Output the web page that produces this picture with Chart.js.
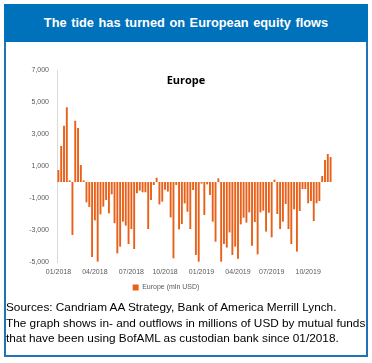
<!DOCTYPE html>
<html>
<head>
<meta charset="utf-8">
<script src="https://cdn.jsdelivr.net/npm/chart.js@4.4.1/dist/chart.umd.min.js"></script>
<style>
  html, body { margin:0; padding:0; background:#fff; }
  body { width:372px; height:363px; position:relative; overflow:hidden; font-family:'Liberation Sans', Arial, sans-serif; }
  #frame { position:absolute; left:4px; top:4px; width:364px; height:353px; box-sizing:border-box; border:2px solid #2272B6; }
  #hdr { position:absolute; left:4px; top:4px; width:364px; height:38px; background:#0071BB; color:#fff;
         font:bold 12.8px 'Liberation Sans', Arial, sans-serif; text-align:center; line-height:38px; word-spacing:1px; }
  #wrap { position:absolute; left:0; top:42px; width:372px; height:269px; }
  #ctitle { position:absolute; left:0; width:372px; top:72px; text-align:center; font:bold 11px 'Open Sans', sans-serif; color:#000; }
  #src { position:absolute; left:6px; top:300px; font:11.8px/15.5px 'Liberation Sans', Arial, sans-serif; color:#000; white-space:nowrap; }
</style>
</head>
<body>
<div id="frame"></div>
<div id="hdr">The tide has turned on European equity flows</div>
<div id="wrap"><canvas id="c"></canvas></div>
<div id="ctitle">Europe</div>
<div id="src">Sources: Candriam AA Strategy, Bank of America Merrill Lynch.<br>The graph shows in- and outflows in millions of USD by mutual funds<br>that have been using BofAML as custodian bank since 01/2018.</div>
<script>
// Weekly flows, Europe (mln USD), first week of 01/2018 onward
const europeFlows = [
  750, 2250, 3520, 4670, 100, -3310, 3830, 3375, 1060, 100,
  -1270, -1560, -4690, -2400, -4980, -2020, -1540, -1125, -1960, -770,
  -2580, -4460, -4040, -2480, -2730, -3875, -2940, -4190, -710, -540,
  -640, -640, -2940, -1125, -190, 270, -1400, -1230, -480, -600,
  -2210, -4770, -190, -2960, -2630, -1340, -1860, -2940, -500, -4560,
  -4980, -100, -2060, -150, -810, -2480, -3730, 230, -4980, -3875,
  -4100, -3150, -4560, -4040, -4800, -2650, -2230, -2540, -1900, -3980,
  -2500, -4520, -1900, -1790, -3100, -1920, -3460, 150, -2000, -2940,
  -2480, -1375, -2940, -3875, -1710, -4350, -1810, -440, -440, -1330,
  -1190, -2440, -1330, -1190, 375, 1375, 1750, 1560
];
const seriesName = "Europe (mln USD)";
const tickLabels = ["01/2018", "04/2018", "07/2018", "10/2018", "01/2019", "04/2019", "07/2019", "10/2019"];
const tickIndices = [0, 13, 26, 38, 51, 64, 76, 89];
const yTicks = { min: -5000, max: 7000, step: 2000 };

// weekly categories (one per bar)
const categories = europeFlows.map((_, i) => "W" + (i + 1));

const tickText = {};
tickIndices.forEach((idx, k) => { tickText[idx] = tickLabels[k]; });

const grey = '#595959';
new Chart(document.getElementById('c'), {
  type: 'bar',
  data: {
    labels: categories,
    datasets: [{
      label: seriesName,
      data: europeFlows,
      backgroundColor: '#E8611A',
      borderWidth: 0,
      barPercentage: 0.68,
      categoryPercentage: 1.0
    }]
  },
  options: {
    responsive: true,
    maintainAspectRatio: false,
    animation: false,
    layout: { padding: { top: 28, left: 0, right: 40, bottom: 10 } },
    plugins: {
      title: { display: false },
      tooltip: { enabled: false },
      legend: {
        display: true,
        position: 'bottom',
        labels: { boxWidth: 6, boxHeight: 6, padding: 4, color: grey, font: { size: 7, family: "'Liberation Sans', Arial, sans-serif" } }
      }
    },
    scales: {
      x: {
        grid: { display: false, drawTicks: false },
        border: { display: false },
        ticks: {
          autoSkip: false, maxRotation: 0, minRotation: 0, padding: 6,
          color: grey, font: { size: 7, family: "'Liberation Sans', Arial, sans-serif" },
          callback: (v, i) => tickText[i] || ''
        },
        afterFit: (s) => { s.height = 18; }
      },
      y: {
        min: yTicks.min, max: yTicks.max,
        ticks: {
          stepSize: yTicks.step, padding: 8, color: grey,
          font: { size: 7, family: "'Liberation Sans', Arial, sans-serif" },
          callback: (v) => v.toLocaleString('en-US')
        },
        grid: {
          drawTicks: false,
          color: (ctx) => (ctx.tick && ctx.tick.value === 0) ? '#D9D9D9' : 'rgba(0,0,0,0)',
          lineWidth: 1
        },
        border: { display: true, color: '#D9D9D9' },
        afterFit: (s) => { s.width = 57; }
      }
    }
  }
});
</script>
</body>
</html>
